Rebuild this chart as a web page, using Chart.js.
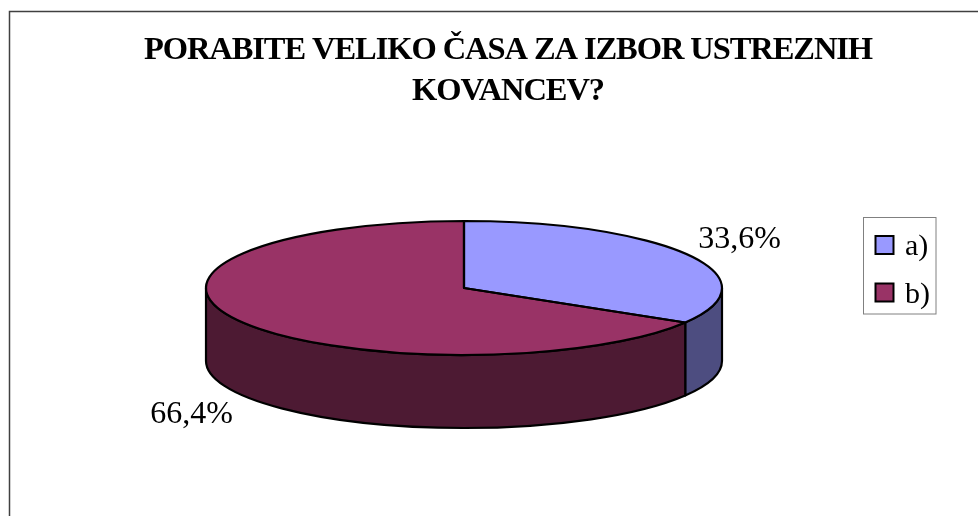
<!DOCTYPE html>
<html>
<head>
<meta charset="utf-8">
<style>
    html, body { margin: 0; padding: 0; background: #fff; }
    #wrap { width: 978px; height: 516px; }
</style>
<script src="https://cdn.jsdelivr.net/npm/chart.js@4"></script>
</head>
<body>
<div id="wrap"><canvas id="pieChart" width="978" height="516"></canvas></div>
<script>
// Chart data
const titleLines = ["PORABITE VELIKO ČASA ZA IZBOR USTREZNIH", "KOVANCEV?"];
const categories = ["a)", "b)"];
const shares = [33.6, 66.4];
const shareLabels = ["33,6%", "66,4%"];
const topColors = ["#9999FF", "#993366"];
const sideColors = ["#4D4D80", "#4D1A33"];

// Shape of the fake 3D pie on the page
const pieCenterX = 464;
const pieCenterY = 288;
const pieRadius = 258;
const pieRadiusY = 67;
const pieDepth = 73;

// Share labels sit next to the slice, offset from the middle of its rim
const labelOffsets = [[51, -7], [-48, 102]];

const fontFamily = "'Liberation Serif', serif";

// Draws the frame, the walls under the pie, squashes the pie itself and adds the labels
const pie3dPlugin = {
    id: "pie3d",
    beforeDraw(chart) {
        const ctx = chart.ctx;
        ctx.save();
        ctx.fillStyle = "#fff";
        ctx.fillRect(0, 0, chart.width, chart.height);
        ctx.strokeStyle = "#404040";
        ctx.lineWidth = 1.5;
        ctx.beginPath();
        ctx.moveTo(9.5, chart.height);
        ctx.lineTo(9.5, 11.5);
        ctx.lineTo(chart.width, 11.5);
        ctx.stroke();
        ctx.restore();

        // The title letters are set tight in the original, the title box inherits this
        ctx.letterSpacing = "-1.08px";
    },
    beforeDatasetDraw(chart) {
        const ctx = chart.ctx;
        const arcs = chart.getDatasetMeta(0).data;
        ctx.letterSpacing = "0px";

        // Walls: only the part of each slice that faces the viewer
        ctx.save();
        ctx.strokeStyle = "#000";
        ctx.lineWidth = 2.2;
        ctx.lineJoin = "round";
        arcs.forEach((arc, i) => {
            const from = Math.max(arc.startAngle, 0);
            const to = Math.min(arc.endAngle, Math.PI);
            if (to <= from) return;
            ctx.beginPath();
            ctx.ellipse(pieCenterX, pieCenterY, pieRadius, pieRadiusY, 0, from, to);
            ctx.ellipse(pieCenterX, pieCenterY + pieDepth, pieRadius, pieRadiusY, 0, to, from, true);
            ctx.closePath();
            ctx.fillStyle = sideColors[i];
            ctx.fill();
            ctx.stroke();
        });
        ctx.restore();

        // Squash the circle the library draws into an ellipse
        ctx.save();
        ctx.translate(pieCenterX, pieCenterY);
        ctx.scale(1, pieRadiusY / pieRadius);
        ctx.translate(-arcs[0].x, -arcs[0].y);
    },
    afterDatasetDraw(chart) {
        const ctx = chart.ctx;
        const arcs = chart.getDatasetMeta(0).data;
        ctx.restore();

        // Outline in page space so the line keeps its width around the ellipse
        ctx.save();
        ctx.strokeStyle = "#000";
        ctx.lineWidth = 2.2;
        ctx.lineJoin = "round";
        arcs.forEach(arc => {
            ctx.beginPath();
            ctx.moveTo(pieCenterX, pieCenterY);
            ctx.ellipse(pieCenterX, pieCenterY, pieRadius, pieRadiusY, 0, arc.startAngle, arc.endAngle);
            ctx.closePath();
            ctx.stroke();
        });

        ctx.fillStyle = "#000";
        ctx.font = "32px " + fontFamily;
        ctx.textAlign = "center";
        ctx.textBaseline = "alphabetic";
        arcs.forEach((arc, i) => {
            const mid = (arc.startAngle + arc.endAngle) / 2;
            const x = pieCenterX + pieRadius * Math.cos(mid) + labelOffsets[i][0];
            const y = pieCenterY + pieRadiusY * Math.sin(mid) + labelOffsets[i][1];
            ctx.fillText(shareLabels[i], x, y);
        });
        ctx.restore();
    },
    afterDraw(chart) {
        const ctx = chart.ctx;

        // Legend box, its gaps can't be set on the built-in legend
        ctx.save();
        ctx.strokeStyle = "#808080";
        ctx.lineWidth = 1;
        ctx.strokeRect(863.5, 217.5, 72.5, 96.5);
        ctx.font = "30px " + fontFamily;
        ctx.textBaseline = "alphabetic";
        categories.forEach((name, i) => {
            const y = 236 + i * 47.5;
            ctx.fillStyle = topColors[i];
            ctx.strokeStyle = "#000";
            ctx.lineWidth = 2;
            ctx.fillRect(875.5, y, 18, 18);
            ctx.strokeRect(875.5, y, 18, 18);
            ctx.fillStyle = "#000";
            ctx.fillText(name, 905, y + 19);
        });
        ctx.restore();
    }
};

new Chart(document.getElementById("pieChart"), {
    type: "pie",
    data: {
        labels: categories,
        datasets: [{
            data: shares,
            backgroundColor: topColors,
            borderWidth: 0,
            radius: pieRadius
        }]
    },
    options: {
        responsive: false,
        animation: false,
        layout: { padding: { left: 38 } },
        plugins: {
            tooltip: { enabled: false },
            legend: { display: false },
            title: {
                display: true,
                text: titleLines,
                color: "#000",
                padding: { top: 30, bottom: 10 },
                font: { family: fontFamily, size: 32.5, weight: "bold", lineHeight: 1.26 }
            }
        }
    },
    plugins: [pie3dPlugin]
});
</script>
</body>
</html>
